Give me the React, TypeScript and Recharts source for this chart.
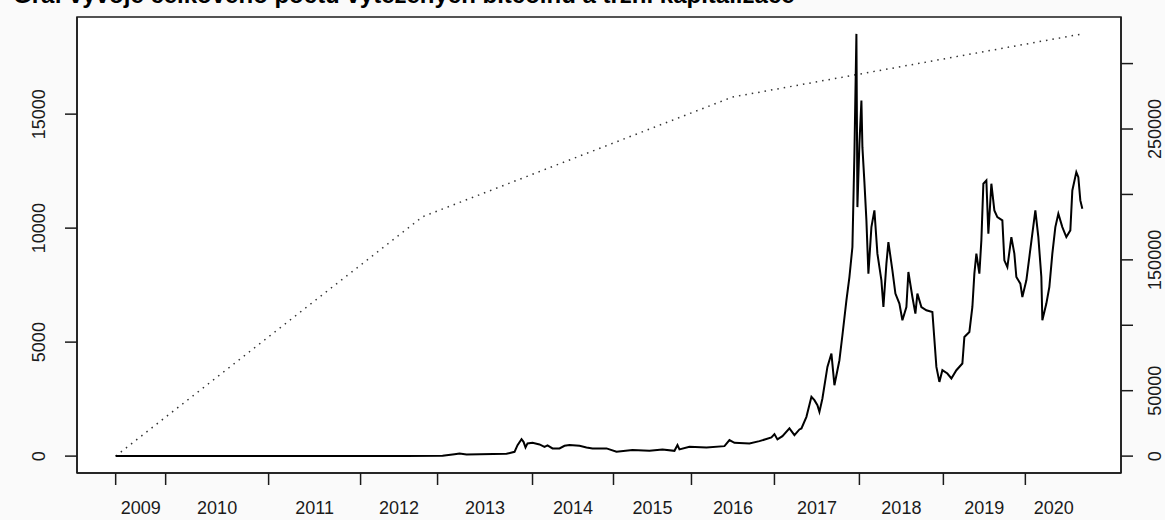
import React from "react";
import { LineChart, Line, XAxis, YAxis, CartesianGrid, ReferenceArea } from "recharts";

// x is the row index of the series (years are not evenly spaced in the source)
const yearLabels = ["2009", "2010", "2011", "2012", "2013", "2014", "2015", "2016", "2017", "2018", "2019", "2020"];
const yearStartIdx = [0, 50, 153, 245, 322, 417, 498, 576, 659, 744, 828, 910];
const lastIdx = 967;

// total bitcoins issued, thousands (left axis, dotted)
const supplyIdx = [0, 307, 617, 967];
const supplyK = [0, 10500, 15750, 18520];

// market capitalisation, millions USD (right axis, solid)
const capIdx = [
  0, 60, 120, 180, 240, 290, 327, 339, 344, 351, 391, 399, 402, 406, 408, 410, 412, 417, 424, 429,
  432, 437, 444, 449, 454, 464, 471, 477, 491, 501, 517, 534, 547, 559, 562, 564, 574, 591, 609, 614,
  619, 634, 644, 656, 659, 662, 667, 674, 679, 684, 686, 691, 696, 699, 702, 704, 707, 712, 716, 719,
  724, 727, 731, 734, 737, 739, 741, 742, 744, 746, 747, 749, 751, 753, 756, 759, 762, 766, 768, 771,
  773, 777, 780, 784, 787, 791, 793, 797, 800, 802, 806, 811, 817, 821, 824, 827, 832, 836, 841, 847,
  849, 854, 857, 859, 861, 864, 866, 868, 871, 873, 876, 879, 882, 887, 889, 892, 896, 899, 901, 905,
  907, 911, 914, 917, 920, 923, 926, 927, 931, 934, 937, 940, 943, 947, 951, 955, 957, 961, 963, 965,
  967,
];
const capM = [
  0, 0, 0, 60, 120, 180, 230, 1500, 2060, 1300, 1760, 3280, 8400, 12980, 10920, 6640, 9700, 10150, 8930, 7100,
  8170, 5880, 5880, 7860, 8400, 7860, 6640, 5880, 5880, 3280, 4580, 4050, 5110, 4050, 8400, 5110, 7100, 6640, 7630, 12210,
  10150, 9700, 11450, 14280, 16800, 12750, 15270, 21150, 16030, 20380, 21150, 30000, 45270, 42750, 38930, 33820, 44050, 68170, 78400, 54200,
  73290, 92370, 119090, 136880, 159780, 231080, 322700, 190320, 238710, 271770, 236120, 209400, 180160, 139470, 175050, 187800, 154740, 134360, 113970, 147110,
  163600, 141990, 124210, 116570, 103820, 113970, 140690, 121610, 108940, 124210, 113970, 111460, 110160, 68170, 56720, 65650, 63130, 59320, 65650, 70770,
  91070, 94890, 113970, 139470, 154740, 139470, 164890, 208180, 210700, 170010, 208180, 187800, 182680, 180160, 149630, 144510, 167410, 154740, 136880, 131840,
  121610, 134360, 152140, 170010, 187800, 167410, 136880, 103820, 116570, 129240, 154740, 175050, 185280, 175050, 167410, 172530, 203060, 217030, 213220, 195430,
  189090,
];

const leftTicks = [0, 5000, 10000, 15000];
const rightTicks = [0, 50000, 100000, 150000, 200000, 250000, 300000];
const rightShown = [0, 50000, 150000, 250000];

const supplyData = supplyIdx.map((x, i) => ({ x, supply: supplyK[i] }));
const capData = capIdx.map((x, i) => ({ x, cap: capM[i] }));
const labelPos = yearStartIdx.map((s, i) => (s + (yearStartIdx[i + 1] ?? lastIdx)) / 2);

// R-style 4% padding around the data ranges
const pad = (lo: number, hi: number) => [lo - (hi - lo) * 0.04, hi + (hi - lo) * 0.04];
const xDomain = pad(0, lastIdx);
const leftDomain = pad(0, Math.max(...supplyK));
const rightDomain = pad(0, Math.max(...capM));

const W = 1165;
const H = 520;
const LEFT_W = 77;
const RIGHT_W = 44;
const pxPerUnit = (W - LEFT_W - RIGHT_W) / (xDomain[1] - xDomain[0]);

const FONT = "'Liberation Sans', Arial, Helvetica, sans-serif";
const INK = "#1a1a1a";

// tick sits on the year boundary, its label is centred over the year's span
const YearTick = (p: any) => {
  const i = p.index;
  const lx = p.x + (labelPos[i] - yearStartIdx[i]) * pxPerUnit;
  return (
    <text x={lx} y={p.y} textAnchor="middle" dominantBaseline="central" fontSize={18} fontFamily={FONT} fill={INK}>
      {yearLabels[i]}
    </text>
  );
};

const SideTick = (p: any) => {
  const v = p.payload.value;
  if (p.orientation === "right" && !rightShown.includes(v)) return <g />;
  return (
    <text
      x={p.x}
      y={p.y}
      transform={`rotate(-90, ${p.x}, ${p.y})`}
      textAnchor="middle"
      dominantBaseline="central"
      fontSize={18}
      fontFamily={FONT}
      fill={INK}
    >
      {v}
    </text>
  );
};

export default function App() {
  return (
    <div style={{ position: "absolute", left: 0, top: 0, width: W, height: H, background: "#fafafa" }}>
      <svg width={W} height={20} style={{ position: "absolute", left: 0, top: 0 }}>
        <text x={13} y={3} fontSize={24} fontWeight="bold" fontFamily={FONT} fill="#000">
          Graf vývoje celkového počtu vytěžených bitcoinů a tržní kapitalizace
        </text>
      </svg>
      <LineChart width={W} height={H} margin={{ top: 17, right: 0, bottom: 0, left: 0 }}>
        <CartesianGrid horizontal={false} vertical={false} fill="#ffffff" />
        <XAxis
          dataKey="x"
          type="number"
          domain={xDomain}
          allowDataOverflow
          ticks={yearStartIdx}
          interval={0}
          height={47}
          tickSize={12}
          tickMargin={23}
          tick={YearTick}
          stroke={INK}
          strokeWidth={1.5}
        />
        <YAxis
          yAxisId="left"
          orientation="left"
          width={LEFT_W}
          domain={leftDomain}
          allowDataOverflow
          ticks={leftTicks}
          interval={0}
          tickSize={12}
          tickMargin={26}
          tick={SideTick}
          stroke={INK}
          strokeWidth={1.5}
        />
        <YAxis
          yAxisId="right"
          orientation="right"
          width={RIGHT_W}
          domain={rightDomain}
          allowDataOverflow
          ticks={rightTicks}
          interval={0}
          tickSize={12}
          tickMargin={22}
          tick={SideTick}
          stroke={INK}
          strokeWidth={1.5}
        />
        <ReferenceArea
          yAxisId="left"
          x1={xDomain[0]}
          x2={xDomain[1]}
          y1={leftDomain[0]}
          y2={leftDomain[1]}
          fill="none"
          fillOpacity={0}
          stroke={INK}
          strokeWidth={1.5}
          ifOverflow="visible"
        />
        <Line
          data={supplyData}
          yAxisId="left"
          dataKey="supply"
          type="linear"
          stroke="#333"
          strokeWidth={1.5}
          strokeDasharray="1.5 5"
          dot={false}
          isAnimationActive={false}
        />
        <Line
          data={capData}
          yAxisId="right"
          dataKey="cap"
          type="linear"
          stroke="#000"
          strokeWidth={2}
          dot={false}
          isAnimationActive={false}
        />
      </LineChart>
    </div>
  );
}
